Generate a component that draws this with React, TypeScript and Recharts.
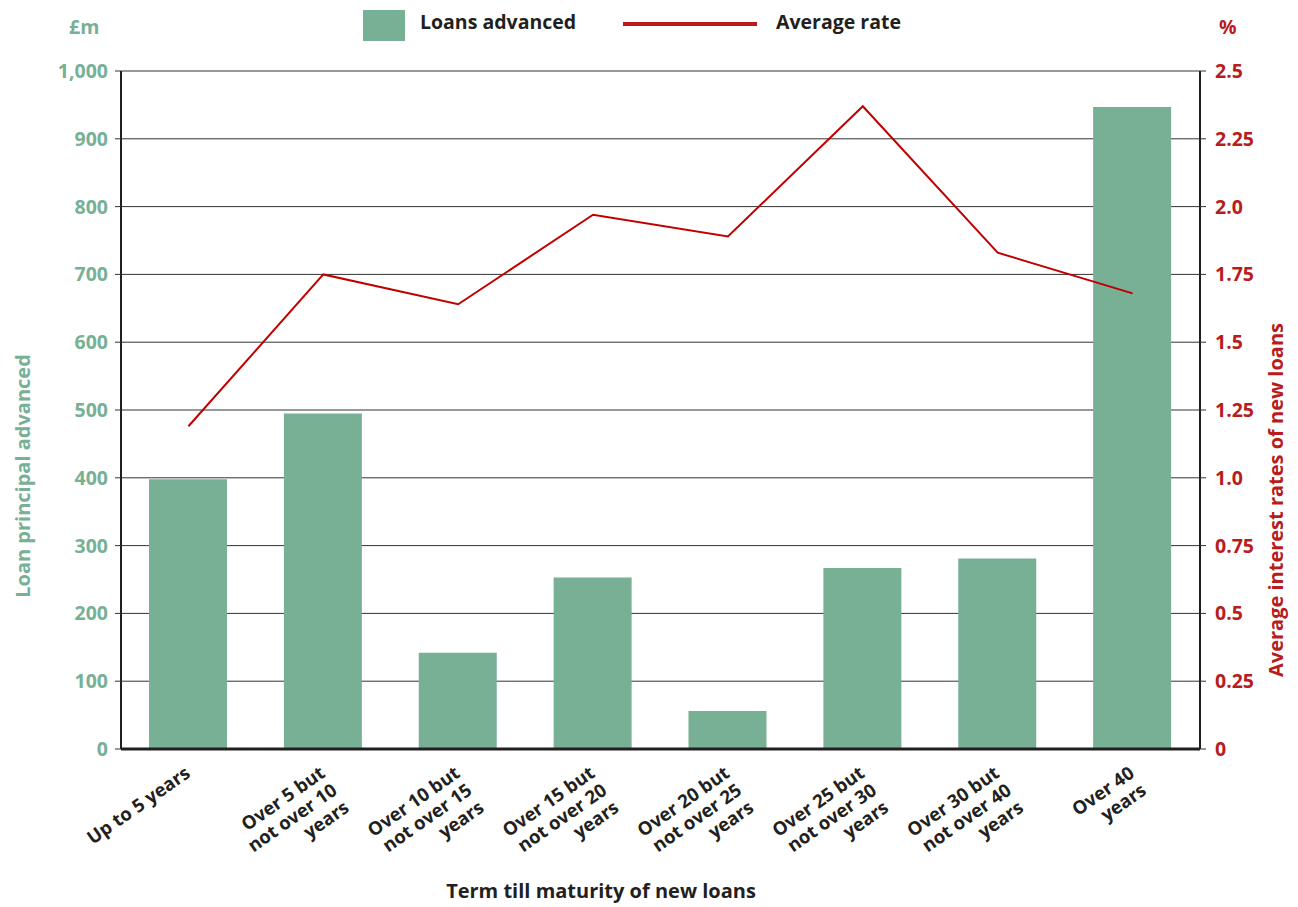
import { ComposedChart, Bar, Line, XAxis, YAxis, CartesianGrid } from 'recharts'

// Term buckets (x axis), newline = line break in the rotated label
const terms = [
  'Up to 5 years',
  'Over 5 but\nnot over 10\nyears',
  'Over 10 but\nnot over 15\nyears',
  'Over 15 but\nnot over 20\nyears',
  'Over 20 but\nnot over 25\nyears',
  'Over 25 but\nnot over 30\nyears',
  'Over 30 but\nnot over 40\nyears',
  'Over 40\nyears',
]

// £m
const loansAdvanced = [398, 495, 142, 253, 56, 267, 281, 947]

const averageRate = [1.19, 1.75, 1.64, 1.97, 1.89, 2.37, 1.83, 1.68]

const loanTicks = [0, 100, 200, 300, 400, 500, 600, 700, 800, 900, 1000]
const rateTicks = [0, 0.25, 0.5, 0.75, 1, 1.25, 1.5, 1.75, 2, 2.25, 2.5]
const rateTickLabels = ['0', '0.25', '0.5', '0.75', '1.0', '1.25', '1.5', '1.75', '2.0', '2.25', '2.5']

const data = terms.map((term, i) => ({
  term,
  loans: loansAdvanced[i],
  rate: averageRate[i],
}))

const GREEN = '#77b094'
const RED = '#b81c1c'
const DARK = '#231f20'
const FONT = '"Open Sans", sans-serif'

function TermTick({ x, y, payload }: any) {
  const lines = String(payload.value).split('\n')
  return (
    <g transform={`translate(${x + 3},${y + 27})`}>
      <text
        transform="rotate(-35)"
        textAnchor="end"
        fill={DARK}
        fontSize={18.5}
        fontWeight={700}
        fontFamily={FONT}
      >
        {lines.map((line, i) => (
          <tspan key={i} x={0} dy={i === 0 ? 0 : 21}>
            {line}
          </tspan>
        ))}
      </text>
    </g>
  )
}

const label = (extra: any) => ({
  position: 'absolute' as const,
  fontFamily: FONT,
  fontWeight: 700,
  whiteSpace: 'nowrap' as const,
  ...extra,
})

export default function App() {
  return (
    <div style={{ position: 'absolute', left: 0, top: 0, width: 1298, height: 907, background: '#fff' }}>
      <ComposedChart
        width={1298}
        height={907}
        data={data}
        margin={{ top: 71, left: 61, right: 38, bottom: 38 }}
      >
        <CartesianGrid vertical={false} stroke="#333" strokeWidth={1} yAxisId="left" />
        <XAxis
          dataKey="term"
          interval={0}
          height={120}
          tick={<TermTick />}
          tickLine={false}
          tickSize={0}
          tickMargin={0}
          axisLine={{ stroke: DARK, strokeWidth: 3 }}
        />
        <YAxis
          yAxisId="left"
          width={60}
          domain={[0, 1000]}
          ticks={loanTicks}
          tickFormatter={(v: number) => v.toLocaleString('en-GB')}
          axisLine={{ stroke: DARK, strokeWidth: 2 }}
          tickLine={{ stroke: '#333' }}
          tickSize={6}
          tickMargin={7}
          tick={{ fill: GREEN, fontSize: 19.5, fontWeight: 700, fontFamily: FONT }}
        />
        <YAxis
          yAxisId="right"
          orientation="right"
          width={60}
          domain={[0, 2.5]}
          ticks={rateTicks}
          tickFormatter={(v: number) => rateTickLabels[rateTicks.indexOf(v)] ?? String(v)}
          axisLine={{ stroke: DARK, strokeWidth: 2 }}
          tickLine={{ stroke: '#333' }}
          tickSize={6}
          tickMargin={9}
          tick={{ fill: RED, fontSize: 19.5, fontWeight: 700, fontFamily: FONT, textAnchor: 'start' }}
        />
        <Bar yAxisId="left" dataKey="loans" fill={GREEN} barSize={78} isAnimationActive={false} />
        <Line
          yAxisId="right"
          type="linear"
          dataKey="rate"
          stroke="#c00000"
          strokeWidth={2}
          dot={false}
          activeDot={false}
          isAnimationActive={false}
        />
      </ComposedChart>

      {/* unit captions */}
      <div style={label({ left: 69, top: 13, fontSize: 19.5, color: GREEN })}>£m</div>
      <div style={label({ left: 1219, top: 13, fontSize: 19.5, color: RED })}>%</div>

      {/* legend */}
      <div style={{ position: 'absolute', left: 363, top: 10, width: 42, height: 31, background: GREEN }} />
      <div style={label({ left: 420, top: 8, fontSize: 19.5, color: DARK })}>Loans advanced</div>
      <div style={{ position: 'absolute', left: 623, top: 22, width: 134, height: 4, background: '#c0171a' }} />
      <div style={label({ left: 776, top: 8, fontSize: 19.5, color: DARK })}>Average rate</div>

      {/* axis titles */}
      <div
        style={label({
          left: 22,
          top: 476,
          fontSize: 20,
          color: GREEN,
          transform: 'translate(-50%, -50%) rotate(-90deg)',
        })}
      >
        Loan principal advanced
      </div>
      <div
        style={label({
          left: 1275,
          top: 500,
          fontSize: 20,
          color: RED,
          transform: 'translate(-50%, -50%) rotate(-90deg)',
        })}
      >
        Average interest rates of new loans
      </div>
      <div style={label({ left: 601, top: 890, fontSize: 20, color: DARK, transform: 'translate(-50%, -50%)' })}>
        Term till maturity of new loans
      </div>
    </div>
  )
}
